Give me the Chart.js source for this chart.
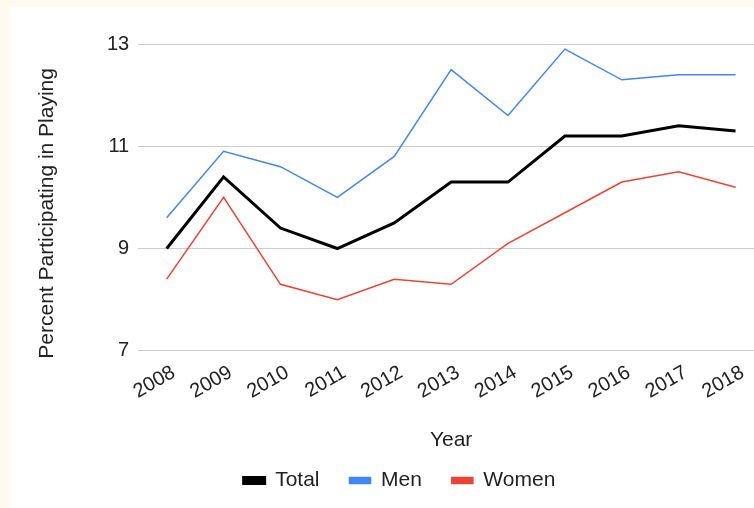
<!DOCTYPE html>
<html lang="en">
<head>
    <meta charset="UTF-8">
    <title>Percent Participating in Playing</title>
    <script src="https://cdn.jsdelivr.net/npm/chart.js"></script>
    <style>
        html, body { margin: 0; padding: 0; overflow: hidden; }
        body { background: #fffaf0; width: 754px; height: 508px; position: relative; }
        .panel {
            position: absolute; left: 10px; top: 7px;
            width: 744px; height: 501px; background: #fff; overflow: hidden;
        }
        #chart { position: absolute; left: 0; top: 0; }
    </style>
</head>
<body>
    <div class="panel">
        <canvas id="chart" width="770" height="501"></canvas>
    </div>

    <script>
        // data
        const years = ['2008', '2009', '2010', '2011', '2012', '2013', '2014', '2015', '2016', '2017', '2018'];
        const total = [9.0, 10.4, 9.4, 9.0, 9.5, 10.3, 10.3, 11.2, 11.2, 11.4, 11.3];
        const men   = [9.6, 10.9, 10.6, 10.0, 10.8, 12.5, 11.6, 12.9, 12.3, 12.4, 12.4];
        const women = [8.4, 10.0, 8.3, 8.0, 8.4, 8.3, 9.1, 9.7, 10.3, 10.5, 10.2];
        const yTitle = 'Percent Participating in Playing';

        const font = 'Liberation Sans, Arial, sans-serif';

        // y title sits a bit lower than the plot centre in the original, so draw it by hand
        const yTitlePlugin = {
            id: 'yTitle',
            afterDraw(chart) {
                const ctx = chart.ctx;
                const area = chart.chartArea;
                ctx.save();
                ctx.translate(37, (area.top + area.bottom) / 2 + 16);
                ctx.rotate(-Math.PI / 2);
                ctx.font = '21px ' + font;
                ctx.fillStyle = '#222';
                ctx.textAlign = 'center';
                ctx.textBaseline = 'middle';
                ctx.fillText(yTitle, 0, 0);
                ctx.restore();
            }
        };

        new Chart(document.getElementById('chart'), {
            type: 'line',
            data: {
                labels: years,
                datasets: [
                    { label: 'Total', data: total, borderColor: '#000000', backgroundColor: '#000000', borderWidth: 3 },
                    { label: 'Men', data: men, borderColor: '#4285f4', backgroundColor: '#4285f4', borderWidth: 1.5 },
                    { label: 'Women', data: women, borderColor: '#ea4335', backgroundColor: '#ea4335', borderWidth: 1.5 }
                ]
            },
            plugins: [yTitlePlugin],
            options: {
                responsive: false,
                animation: false,
                elements: { point: { radius: 0 }, line: { tension: 0 } },
                layout: { padding: { left: 25, right: 16, top: 37, bottom: 7 } },
                plugins: {
                    legend: {
                        position: 'bottom',
                        labels: {
                            font: { family: font, size: 21 },
                            color: '#222',
                            boxWidth: 21,
                            boxHeight: 6,
                            padding: 30
                        }
                    },
                    tooltip: { enabled: false }
                },
                scales: {
                    x: {
                        offset: true,
                        grid: { display: false },
                        border: { display: false },
                        ticks: {
                            font: { family: font, size: 20 },
                            color: '#222',
                            minRotation: 30,
                            maxRotation: 30,
                            padding: 2,
                            labelOffset: 7
                        },
                        title: {
                            display: true,
                            text: 'Year',
                            font: { family: font, size: 21 },
                            color: '#222',
                            padding: { top: 22, bottom: -13 }
                        }
                    },
                    y: {
                        min: 7,
                        max: 13,
                        grid: { color: '#cccccc', lineWidth: 1, drawTicks: false },
                        border: { display: false },
                        ticks: {
                            stepSize: 2,
                            font: { family: font, size: 20 },
                            color: '#222',
                            padding: 9
                        },
                        // room for the hand-drawn title
                        afterFit(scale) { scale.width += 63; }
                    }
                }
            }
        });
    </script>
</body>
</html>
